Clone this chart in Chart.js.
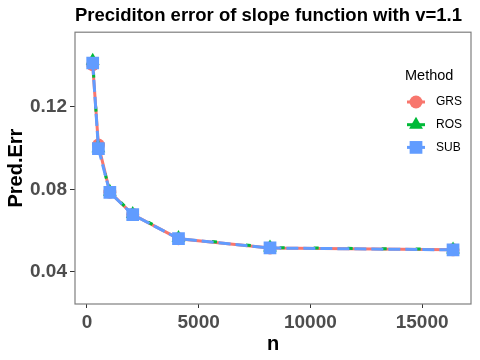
<!DOCTYPE html>
<html>
<head>
<meta charset="utf-8">
<script src="https://cdn.jsdelivr.net/npm/chart.js"></script>
<style>
  html, body { margin: 0; padding: 0; background: #ffffff; }
  #wrap { width: 480px; height: 360px; }
</style>
</head>
<body>
<div id="wrap"><canvas id="chart" width="480" height="360"></canvas></div>
<script>
// data
const sampleSizes = [256, 512, 1024, 2048, 4096, 8192, 16384];
const grsErr = [0.1403, 0.1014, 0.0786, 0.0678, 0.0561, 0.0516, 0.0507];
const rosErr = [0.1422, 0.0999, 0.0788, 0.0680, 0.0564, 0.0518, 0.0509];
const subErr = [0.1411, 0.0997, 0.0785, 0.0677, 0.0561, 0.0516, 0.0507];
const xTicks = [0, 5000, 10000, 15000];
const yTicks = [0.04, 0.08, 0.12];

const FONT = '"Liberation Sans", Arial, Helvetica, sans-serif';

function toPoints(ys) {
    return sampleSizes.map((n, i) => ({ x: n, y: ys[i] }));
}

// grey frame round the panel
const panelBorder = {
    id: 'panelBorder',
    beforeDatasetsDraw(chart) {
        const { ctx, chartArea: a } = chart;
        ctx.save();
        ctx.strokeStyle = '#7f7f7f';
        ctx.lineWidth = 1.2;
        ctx.strokeRect(a.left, a.top, a.right - a.left, a.bottom - a.top);
        ctx.restore();
    }
};

// ggplot-like legend inside the panel
const methodLegend = {
    id: 'methodLegend',
    afterDraw(chart) {
        const ctx = chart.ctx;
        ctx.save();
        ctx.fillStyle = '#000000';
        ctx.font = '14.5px ' + FONT;
        ctx.textBaseline = 'middle';
        ctx.textAlign = 'left';
        ctx.fillText('Method', 405, 76);
        chart.data.datasets.forEach((ds, i) => {
            const y = 102 + i * 22.7;
            ctx.strokeStyle = ds.borderColor;
            ctx.lineWidth = 3;
            ctx.beginPath();
            ctx.moveTo(407, y);
            ctx.lineTo(425, y);
            ctx.stroke();
            ctx.fillStyle = ds.pointBackgroundColor;
            Chart.helpers.drawPoint(ctx, {
                pointStyle: ds.pointStyle,
                radius: ds.pointRadius,
                rotation: 0,
                borderWidth: 0
            }, 416, y);
            ctx.fillStyle = '#000000';
            ctx.font = '12px ' + FONT;
            ctx.fillText(ds.label, 436, y);
        });
        ctx.restore();
    }
};

new Chart(document.getElementById('chart'), {
    type: 'line',
    data: {
        datasets: [
            {
                label: 'GRS', data: toPoints(grsErr), order: 2,
                borderColor: '#F8766D', borderWidth: 3,
                pointStyle: 'circle', pointRadius: 6.5,
                pointBackgroundColor: '#F8766D', pointBorderWidth: 0
            },
            {
                label: 'ROS', data: toPoints(rosErr), order: 1,
                borderColor: '#00BA38', borderWidth: 3,
                borderDash: [5, 29], borderDashOffset: -12,
                pointStyle: 'triangle', pointRadius: 8,
                pointBackgroundColor: '#00BA38', pointBorderWidth: 0
            },
            {
                label: 'SUB', data: toPoints(subErr), order: 0,
                borderColor: '#619CFF', borderWidth: 3,
                borderDash: [12, 5],
                pointStyle: 'rect', pointRadius: 9,
                pointBackgroundColor: '#619CFF', pointBorderWidth: 0
            }
        ]
    },
    options: {
        responsive: false,
        animation: false,
        layout: { padding: { left: 0, right: 8, top: 0, bottom: 0 } },
        plugins: {
            legend: { display: false },
            tooltip: { enabled: false },
            title: {
                display: true,
                text: 'Preciditon error of slope function with v=1.1',
                align: 'start',
                fullSize: false,
                color: '#000000',
                font: { family: FONT, size: 18.5, weight: 'bold' },
                padding: { top: 5, bottom: 5 }
            }
        },
        scales: {
            x: {
                type: 'linear',
                min: -536,
                max: 17188,
                afterBuildTicks: s => { s.ticks = xTicks.map(v => ({ value: v })); },
                afterFit: s => { s.height = 56; },
                border: { display: false },
                grid: { drawOnChartArea: false, drawTicks: true, tickLength: 4, color: '#333333' },
                ticks: {
                    color: '#4d4d4d', padding: 3, maxRotation: 0,
                    font: { family: FONT, size: 19, weight: 'bold' },
                    callback: v => String(v)
                },
                title: {
                    display: true, text: 'n', color: '#000000',
                    font: { family: FONT, size: 20, weight: 'bold' },
                    padding: { top: 0, bottom: 4 }
                }
            },
            y: {
                type: 'linear',
                min: 0.0245,
                max: 0.156,
                afterBuildTicks: s => { s.ticks = yTicks.map(v => ({ value: v })); },
                afterFit: s => { s.width = 75; },
                border: { display: false },
                grid: { drawOnChartArea: false, drawTicks: true, tickLength: 5, color: '#333333' },
                ticks: {
                    color: '#4d4d4d', padding: 3,
                    font: { family: FONT, size: 19, weight: 'bold' },
                    callback: v => v.toFixed(2)
                },
                title: {
                    display: true, text: 'Pred.Err', color: '#000000',
                    font: { family: FONT, size: 20, weight: 'bold' },
                    padding: { top: 4, bottom: 0 }
                }
            }
        }
    },
    plugins: [panelBorder, methodLegend]
});
</script>
</body>
</html>
